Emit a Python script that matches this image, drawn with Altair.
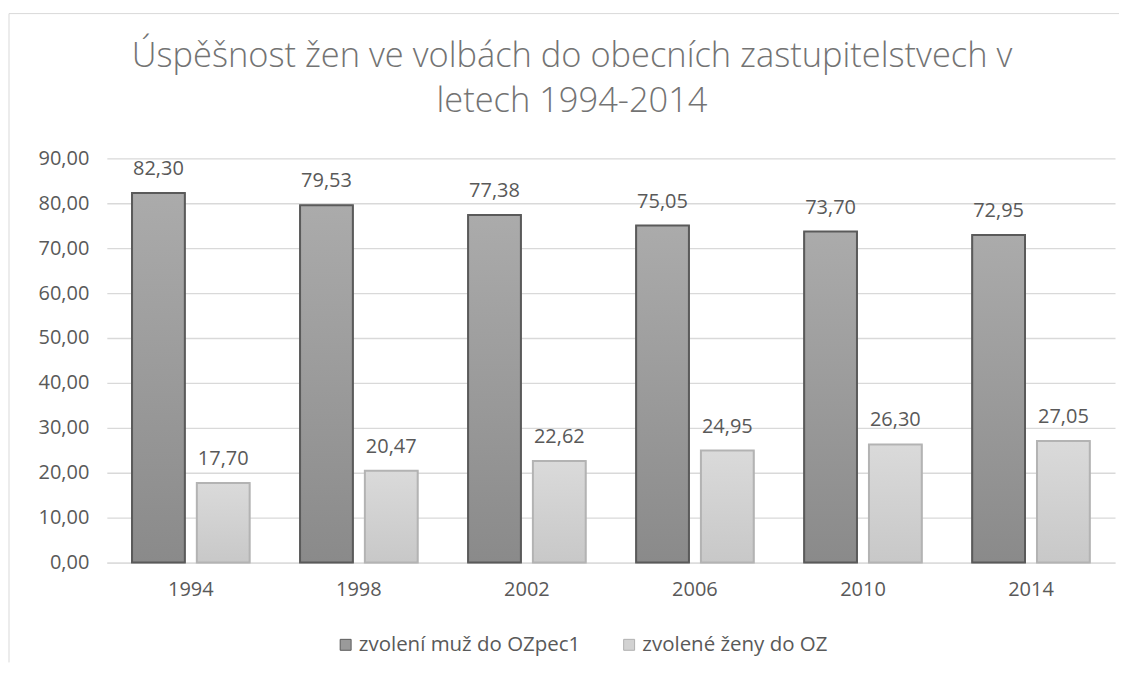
import altair as alt
import pandas as pd

years = ["1994", "1998", "2002", "2006", "2010", "2014"]
men = [82.30, 79.53, 77.38, 75.05, 73.70, 72.95]
women = [17.70, 20.47, 22.62, 24.95, 26.30, 27.05]
series_names = ["zvolení muž do OZpec1", "zvolené ženy do OZ"]
y_ticks = [0, 10, 20, 30, 40, 50, 60, 70, 80, 90]
title_lines = ["Úspěšnost žen ve volbách do obecních zastupitelstvech v", "letech 1994-2014"]

rows = []
for yr, m, w in zip(years, men, women):
    rows.append({"year": yr, "series": series_names[0], "value": m})
    rows.append({"year": yr, "series": series_names[1], "value": w})
df = pd.DataFrame(rows)

FONT = "Open Sans"
TXT = "#595959"

grad_dark = {"gradient": "linear", "x1": 0, "y1": 0, "x2": 0, "y2": 1,
             "stops": [{"offset": 0, "color": "#ababab"}, {"offset": 1, "color": "#8a8a8a"}]}
grad_light = {"gradient": "linear", "x1": 0, "y1": 0, "x2": 0, "y2": 1,
              "stops": [{"offset": 0, "color": "#dadada"}, {"offset": 1, "color": "#c8c8c8"}]}

x_enc = alt.X("year:N", sort=years,
              scale=alt.Scale(paddingInner=0.3, paddingOuter=0.15),
              axis=alt.Axis(title=None, labelAngle=0, ticks=False, domain=True,
                            domainColor="#d9d9d9", labelPadding=17, grid=False))
xo_enc = alt.XOffset("series:N", sort=series_names,
                     scale=alt.Scale(domain=series_names, paddingInner=0.185, paddingOuter=0))
y_enc = alt.Y("value:Q", scale=alt.Scale(domain=[0, 90], nice=False),
              axis=alt.Axis(title=None, values=y_ticks, ticks=False, domain=False,
                            labelPadding=18, gridColor="#d9d9d9", gridWidth=1.3,
                            labelExpr="replace(format(datum.value, '.2f'), '.', ',')"))

base = alt.Chart(df)

legend_layer = base.mark_bar(strokeWidth=1).encode(
    x=x_enc, xOffset=xo_enc, y=y_enc,
    color=alt.Color("series:N", sort=series_names,
                    scale=alt.Scale(domain=series_names, range=["#9a9a9a", "#d2d2d2"]),
                    legend=alt.Legend(title=None, orient="none", legendX=229, legendY=477,
                                      direction="horizontal", symbolType="square",
                                      symbolSize=120, symbolStrokeWidth=1,
                                      labelFontSize=20.5, labelFont=FONT, labelColor=TXT,
                                      labelLimit=0, labelOffset=3, columnPadding=38)),
    stroke=alt.Stroke("series:N", sort=series_names,
                      scale=alt.Scale(domain=series_names, range=["#5a5a5a", "#b0b0b0"]),
                      legend=alt.Legend(title=None)),
)

dark = base.transform_filter(alt.datum.series == series_names[0]).mark_bar(
    fill=grad_dark, stroke="#5a5a5a", strokeWidth=2
).encode(x=x_enc, xOffset=xo_enc, y=y_enc)

light = base.transform_filter(alt.datum.series == series_names[1]).mark_bar(
    fill=grad_light, stroke="#b3b3b3", strokeWidth=2
).encode(x=x_enc, xOffset=xo_enc, y=y_enc)

labels = base.transform_calculate(
    label="replace(format(datum.value, '.2f'), '.', ',')"
).mark_text(font=FONT, fontSize=20, color=TXT, baseline="alphabetic", dy=-18).encode(
    x=x_enc, xOffset=xo_enc, y=y_enc, text="label:N"
)

one = alt.Chart(pd.DataFrame({"a": [0]}))
frame_top = one.mark_rule(color="#d9d9d9", strokeWidth=1).encode(
    x=alt.value(-98), x2=alt.value(1014), y=alt.value(-145))
frame_left = one.mark_rule(color="#d9d9d9", strokeWidth=1).encode(
    x=alt.value(-98), y=alt.value(-145), y2=alt.value(505))

chart = alt.layer(frame_top, frame_left, legend_layer, dark, light, labels).properties(
    width=1010, height=405,
    title=alt.Title(title_lines, anchor="middle", frame="bounds", fontSize=34.5,
                    font=FONT, fontWeight=300, color="#737373",
                    lineHeight=45, offset=-107, dx=8),
    padding={"left": 0, "top": 4, "right": 0, "bottom": 0},
).configure_view(stroke=None).configure_axis(
    labelFont=FONT, labelFontSize=20, labelColor=TXT
)

chart.save("out.html", embed_options={"renderer": "svg", "actions": False})
